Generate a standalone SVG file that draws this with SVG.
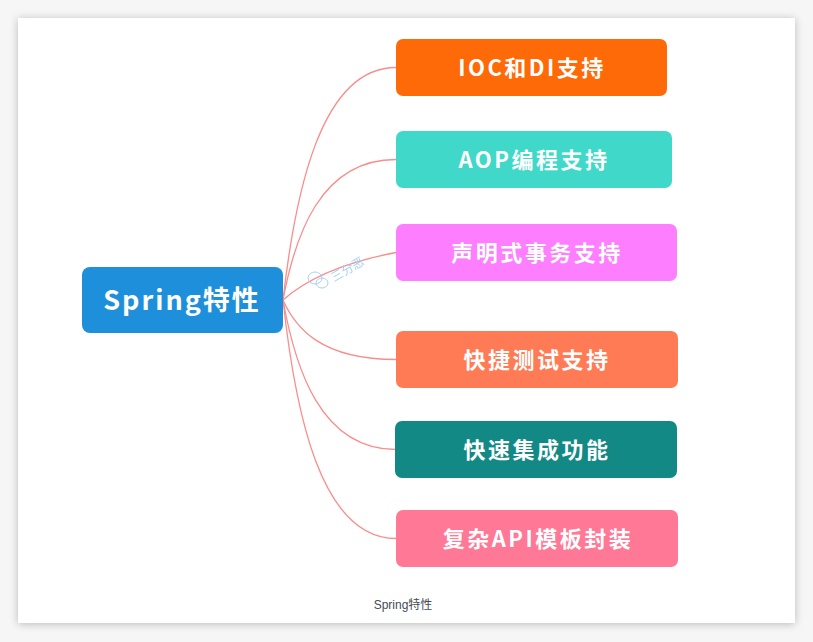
<svg xmlns="http://www.w3.org/2000/svg" width="813" height="642" viewBox="0 0 813 642">
<defs>
<filter id="sh" x="-5%" y="-5%" width="110%" height="110%">
<feGaussianBlur in="SourceAlpha" stdDeviation="4"/>
<feOffset dy="1"/>
<feComponentTransfer><feFuncA type="linear" slope="0.25"/></feComponentTransfer>
<feMerge><feMergeNode/><feMergeNode in="SourceGraphic"/></feMerge>
</filter>
</defs>
<style>
.lbl{font-family:"Noto Sans CJK SC","Noto Sans",sans-serif;font-weight:700;fill:#ffffff;text-anchor:middle;dominant-baseline:central;font-size:22px;letter-spacing:2.5px}
.root{font-size:27px;letter-spacing:2px}
.c{fill:none;stroke:#fa8c8c;stroke-width:1.3}
.cap{font-family:"Liberation Sans","Noto Sans CJK SC",sans-serif;font-size:12px;fill:#444c56;text-anchor:middle}
.wm{font-family:"Noto Sans CJK SC",sans-serif;font-size:12px;fill:#9ccdf0}
</style>
<rect width="813" height="642" fill="#f6f6f6"/>
<rect x="18" y="18" width="777" height="605" fill="#ffffff" filter="url(#sh)"/>
<g id="connectors">
<path class="c" d="M283,300 C295,195 320,67.5 396,67.5"/>
<path class="c" d="M283,300 C295,236 320,159.5 396,159.5"/>
<path class="c" d="M283,300 C300,285 330,265 396,252.5"/>
<path class="c" d="M283,300 C295,327 320,359.5 396,359.5"/>
<path class="c" d="M283,300 C295,367 320,449.5 396,449.5"/>
<path class="c" d="M283,300 C295,410 320,538.5 396,538.5"/>
</g>
<g id="watermark" opacity="0.9">
<ellipse cx="315" cy="278" rx="7" ry="6" fill="none" stroke="#9ccdf0" stroke-width="1"/>
<ellipse cx="322" cy="283" rx="6" ry="5" fill="none" stroke="#9ccdf0" stroke-width="1"/>
<text class="wm" x="334" y="282" transform="rotate(-30 334 282)">三分恶</text>
</g>
<g id="node-root">
<rect x="82" y="267" width="201" height="66" rx="8" fill="#1e8fdb"/>
<text class="lbl root" x="182" y="298">Spring特性</text>
</g>
<g id="node-ioc">
<rect x="396" y="39" width="271" height="57" rx="7" fill="#ff6a08"/>
<text class="lbl" x="532" y="65.5">IOC和DI支持</text>
</g>
<g id="node-aop">
<rect x="396" y="131" width="276" height="57" rx="7" fill="#40d9c9"/>
<text class="lbl" x="534" y="157.5">AOP编程支持</text>
</g>
<g id="node-tx">
<rect x="396" y="224" width="281" height="57" rx="7" fill="#fd7efe"/>
<text class="lbl" x="537" y="250.5">声明式事务支持</text>
</g>
<g id="node-test">
<rect x="396" y="331" width="282" height="57" rx="7" fill="#ff7b55"/>
<text class="lbl" x="537" y="357.5">快捷测试支持</text>
</g>
<g id="node-integ">
<rect x="395" y="421" width="282" height="57" rx="7" fill="#138985"/>
<text class="lbl" x="537" y="447.5">快速集成功能</text>
</g>
<g id="node-api">
<rect x="396" y="510" width="282" height="57" rx="7" fill="#ff7896"/>
<text class="lbl" x="538" y="536.5">复杂API模板封装</text>
</g>
<text class="cap" x="403" y="609">Spring特性</text>
</svg>
